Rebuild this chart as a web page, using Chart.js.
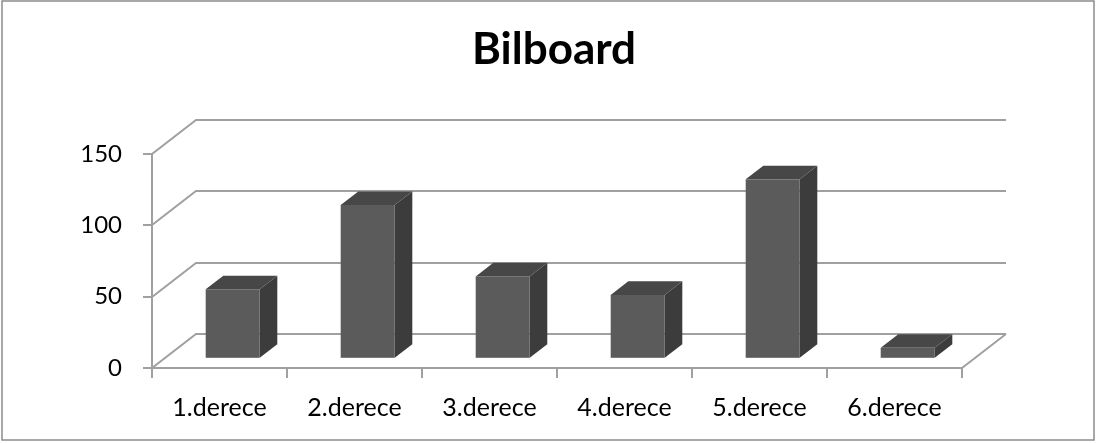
<!DOCTYPE html>
<html lang="tr">
<head>
  <meta charset="UTF-8">
  <title>Bilboard</title>
  <script src="https://cdn.jsdelivr.net/npm/chart.js"></script>
  <style>
    html, body {
      margin: 0;
      padding: 0;
      background: #ffffff;
    }
    .chart-box {
      position: relative;
      width: 1096px;
      height: 443px;
    }
  </style>
</head>
<body>
  <div class="chart-box">
    <canvas id="bilboardChart"></canvas>
  </div>

  <script>
    // chart data
    const categories = ['1.derece', '2.derece', '3.derece', '4.derece', '5.derece', '6.derece'];
    const values = [48, 107, 57, 44, 125, 7];
    const yTicks = [0, 50, 100, 150];

    // 3D look (oblique projection of the floor / back wall)
    const DEPTH_X = 44;
    const DEPTH_Y = -34;
    const BAR_FRONT = 0.3;   // bars sit between 30% and 70% of the depth
    const BAR_BACK = 0.7;
    const GRID_COLOR = '#a0a0a0';

    const grid3d = {
      id: 'grid3d',
      beforeDatasetsDraw(chart) {
        const ctx = chart.ctx;
        const x = chart.scales.x;
        const y = chart.scales.y;
        const left = x.left, right = x.right, bottom = y.bottom;

        ctx.save();
        ctx.strokeStyle = GRID_COLOR;
        ctx.lineWidth = 2;
        ctx.lineCap = 'butt';

        yTicks.forEach(v => {
          const py = Math.round(y.getPixelForValue(v));
          ctx.beginPath();
          // tick mark on the front axis
          ctx.moveTo(left - 9, py);
          ctx.lineTo(left, py);
          // side wall diagonal, then back wall line
          ctx.lineTo(left + DEPTH_X, py + DEPTH_Y);
          ctx.lineTo(right + DEPTH_X, py + DEPTH_Y);
          ctx.stroke();
        });

        // front vertical axis
        ctx.beginPath();
        ctx.moveTo(left, Math.round(y.getPixelForValue(yTicks[yTicks.length - 1])));
        ctx.lineTo(left, bottom);
        ctx.stroke();

        // floor front edge and right edge
        ctx.beginPath();
        ctx.moveTo(left, bottom);
        ctx.lineTo(right, bottom);
        ctx.lineTo(right + DEPTH_X, bottom + DEPTH_Y);
        ctx.stroke();

        // category tick marks
        const n = categories.length;
        for (let i = 0; i <= n; i++) {
          const px = Math.round(left + i * (right - left) / n);
          ctx.beginPath();
          ctx.moveTo(px, bottom);
          ctx.lineTo(px, bottom + 10);
          ctx.stroke();
        }

        // outer frame
        ctx.strokeStyle = '#8c8c8c';
        ctx.lineWidth = 1.5;
        ctx.strokeRect(2, 1, chart.width - 4, chart.height - 4);
        ctx.restore();
      },
      afterDatasetsDraw(chart) {
        const ctx = chart.ctx;
        const meta = chart.getDatasetMeta(0);
        const fx = DEPTH_X * BAR_FRONT, fy = DEPTH_Y * BAR_FRONT;
        const dx = DEPTH_X * (BAR_BACK - BAR_FRONT), dy = DEPTH_Y * (BAR_BACK - BAR_FRONT);

        ctx.save();
        meta.data.forEach(bar => {
          const { x, y, base, width } = bar.getProps(['x', 'y', 'base', 'width'], true);
          const l = x - width / 2 + fx;
          const r = x + width / 2 + fx;
          const t = y + fy;
          const b = base + fy;

          // side face
          ctx.fillStyle = '#3c3c3c';
          ctx.beginPath();
          ctx.moveTo(r, b);
          ctx.lineTo(r, t);
          ctx.lineTo(r + dx, t + dy);
          ctx.lineTo(r + dx, b + dy);
          ctx.closePath();
          ctx.fill();

          // top face
          ctx.fillStyle = '#474747';
          ctx.beginPath();
          ctx.moveTo(l, t);
          ctx.lineTo(r, t);
          ctx.lineTo(r + dx, t + dy);
          ctx.lineTo(l + dx, t + dy);
          ctx.closePath();
          ctx.fill();

          // front face
          ctx.fillStyle = '#5b5b5b';
          ctx.fillRect(l, t, r - l, b - t);
        });
        ctx.restore();
      }
    };

    const ctx = document.getElementById('bilboardChart').getContext('2d');
    new Chart(ctx, {
      type: 'bar',
      data: {
        labels: categories,
        datasets: [{
          data: values,
          backgroundColor: 'rgba(0,0,0,0)',
          borderWidth: 0,
          categoryPercentage: 1,
          barPercentage: 0.4
        }]
      },
      options: {
        responsive: true,
        maintainAspectRatio: false,
        animation: false,
        layout: {
          padding: { left: 12, right: 0, top: 0, bottom: 0 }
        },
        plugins: {
          legend: { display: false },
          tooltip: { enabled: false },
          title: {
            display: true,
            text: 'Bilboard',
            color: '#000000',
            font: { family: 'Lato', size: 44, weight: 'bold', lineHeight: 1.2 },
            padding: { top: 23, bottom: 78 }
          }
        },
        scales: {
          x: {
            grid: { display: false },
            border: { display: false },
            ticks: {
              color: '#000000',
              padding: 17,
              font: { family: 'Lato', size: 25 }
            },
            afterFit(scale) { scale.height = 75; }
          },
          y: {
            min: 0,
            max: 150,
            afterBuildTicks(scale) {
              scale.ticks = yTicks.map(v => ({ value: v }));
            },
            grid: { display: false },
            border: { display: false },
            ticks: {
              color: '#000000',
              padding: 22,
              font: { family: 'Lato', size: 24 }
            },
            afterFit(scale) { scale.width = 140; }
          },
          // empty right-hand axis that only reserves the space behind the back wall
          yRight: {
            type: 'linear',
            position: 'right',
            min: 0,
            max: 150,
            grid: { display: false },
            border: { display: false },
            ticks: { display: false },
            afterFit(scale) { scale.width = 134; }
          }
        }
      },
      plugins: [grid3d]
    });
  </script>
</body>
</html>
